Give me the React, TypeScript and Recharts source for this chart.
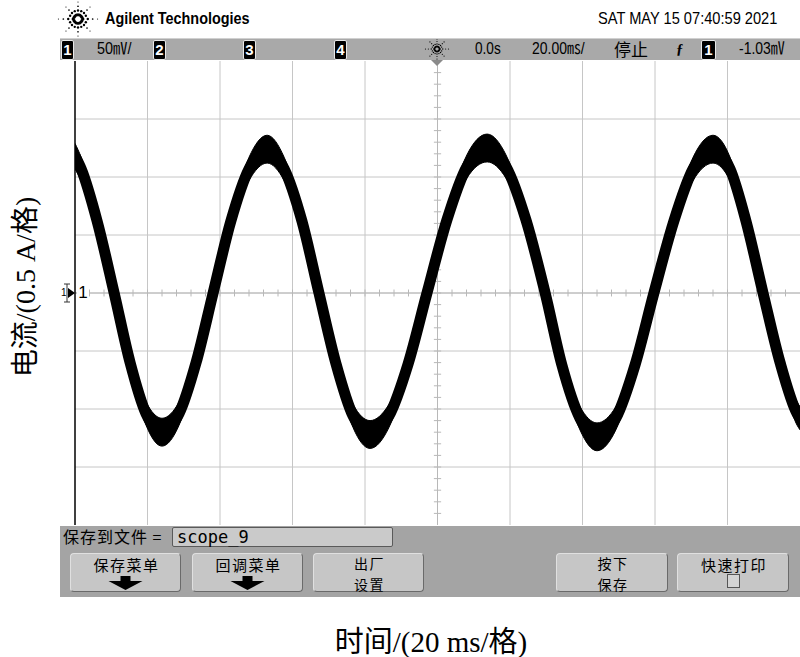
import React from 'react';
import { ComposedChart, Line, Area, XAxis, YAxis, CartesianGrid, ReferenceLine } from 'recharts';

// trace: time in ms (trigger at 0), current in A (0.5 A/div)
const TIME_MS = [
  -100, -98.3, -93.9, -89.2, -84.8, -80.4, -76.0, -71.3, -66.6, -61.9,
  -57.0, -52.0, -47.0, -42.3, -37.4, -32.7, -28.0, -23.3, -18.6, -13.4,
  -8.1, -2.9, 2.6, 8.1, 13.7, 18.9, 24.4, 29.7, 34.3, 39.3,
  44.0, 49.2, 54.5, 59.7, 65.2, 70.5, 76.0, 80.7, 85.1, 89.8,
  94.5, 99.2, 100,
];
const CURRENT_A = [
  1.18, 1.07, 0.62, 0.0, -0.6, -1.04, -1.2, -1.04, -0.6, 0.0,
  0.62, 1.07, 1.24, 1.07, 0.62, 0.0, -0.61, -1.06, -1.22, -1.06,
  -0.61, 0.0, 0.63, 1.09, 1.25, 1.09, 0.63, 0.0, -0.62, -1.08,
  -1.24, -1.08, -0.62, 0.0, 0.62, 1.07, 1.24, 1.07, 0.62, 0.0,
  -0.6, -1.04, -1.08,
];
// half width of the noisy band around the trace (A), widest at the crests
const NOISE_A = [
  0.11, 0.1, 0.05, 0.03, 0.05, 0.1, 0.12, 0.1, 0.05, 0.03,
  0.05, 0.1, 0.12, 0.1, 0.05, 0.03, 0.05, 0.1, 0.12, 0.1,
  0.05, 0.03, 0.05, 0.1, 0.12, 0.1, 0.05, 0.03, 0.05, 0.1,
  0.12, 0.1, 0.05, 0.03, 0.05, 0.1, 0.12, 0.1, 0.05, 0.03,
  0.05, 0.1, 0.1,
];

// screen graticule: 10 x 20 ms, 8 x 0.5 A
const X_GRID = [-80, -60, -40, -20, 0, 20, 40, 60, 80];
const Y_GRID = [-1.5, -1, -0.5, 0, 0.5, 1, 1.5];
const X_MINOR = Array.from({ length: 49 }, (_, k) => -96 + k * 4);
const Y_MINOR = Array.from({ length: 39 }, (_, k) => Math.round((-1.9 + k * 0.1) * 10) / 10);

const data = TIME_MS.map((t, k) => ({
  t,
  i: CURRENT_A[k],
  band: [CURRENT_A[k] - NOISE_A[k], CURRENT_A[k] + NOISE_A[k]],
}));

const SANS = "'Liberation Sans', Arial, 'Noto Sans CJK SC', sans-serif";
const CJK = "'Noto Sans CJK SC', 'Liberation Sans', sans-serif";
const SERIF = "'Liberation Serif', 'Times New Roman', 'Noto Sans CJK SC', serif";

function T({ x, y, size, sx = 1, font = SANS, weight = 400, children, style }: any) {
  return (
    <div
      style={{
        position: 'absolute',
        left: x,
        top: y - size * 0.6,
        fontSize: size,
        lineHeight: `${size * 1.2}px`,
        fontFamily: font,
        fontWeight: weight,
        whiteSpace: 'nowrap',
        transform: `scaleX(${sx})`,
        transformOrigin: 'left center',
        color: '#000',
        ...style,
      }}
    >
      {children}
    </div>
  );
}

function Spark({ cx, cy, r }: { cx: number; cy: number; r: number }) {
  const dots: React.ReactNode[] = [];
  for (let a = 0; a < 16; a++) {
    const ang = (a * Math.PI) / 8;
    const n = a % 2 === 0 ? 4 : 2;
    for (let j = 1; j <= n; j++) {
      const d = (j / 4) * r;
      dots.push(
        <circle
          key={`${a}-${j}`}
          cx={cx + Math.cos(ang) * d * (a % 4 === 0 ? 1.15 : 1)}
          cy={cy + Math.sin(ang) * d}
          r={Math.max(0.6, (1.9 - j * 0.35) * (r / 17))}
          fill="#000"
        />
      );
    }
  }
  return <>{dots}</>;
}

function ChBox({ x, n, w = 11 }: { x: number; n: string; w?: number }) {
  return (
    <div
      style={{
        position: 'absolute',
        left: x,
        top: 1,
        width: w,
        height: 18,
        background: '#000',
        border: '1px solid #e8e8e8',
        borderRadius: 2,
        color: '#fff',
        fontFamily: SANS,
        fontWeight: 700,
        fontSize: 15,
        lineHeight: '18px',
        textAlign: 'center',
      }}
    >
      {n}
    </div>
  );
}

function Button({ x, w, children }: any) {
  return (
    <div
      style={{
        position: 'absolute',
        left: x,
        top: 553,
        width: w,
        height: 39,
        background: '#c6c6c6',
        border: '1px solid #6a6a6a',
        borderTopColor: '#e0e0e0',
        borderLeftColor: '#e0e0e0',
        borderRadius: 4,
        boxSizing: 'border-box',
      }}
    >
      {children}
    </div>
  );
}

function BtnText({ w, top, size = 15, children }: any) {
  return (
    <div
      style={{
        position: 'absolute',
        left: 0,
        top,
        width: w,
        textAlign: 'center',
        fontFamily: CJK,
        fontSize: size,
        lineHeight: '18px',
        letterSpacing: 1.5,
        color: '#000',
      }}
    >
      {children}
    </div>
  );
}

function Arrow({ w }: { w: number }) {
  const c = w / 2 - 1;
  return (
    <svg style={{ position: 'absolute', left: 0, top: 21 }} width={w} height={16}>
      <polygon
        points={`${c - 5},1 ${c + 5},1 ${c + 5},6 ${c + 17},6 ${c},15 ${c - 17},6 ${c - 5},6`}
        fill="#000"
      />
    </svg>
  );
}

export default function App() {
  return (
    <div
      style={{
        position: 'absolute',
        left: 0,
        top: 0,
        width: 800,
        height: 657,
        background: '#fff',
        overflow: 'hidden',
      }}
    >
      <ComposedChart
        width={800}
        height={657}
        data={data}
        margin={{ top: 61, right: 0, bottom: 132, left: 75 }}
        style={{ position: 'absolute', left: 0, top: 0 }}
      >
        <XAxis dataKey="t" type="number" domain={[-100, 100]} ticks={X_GRID} allowDataOverflow hide />
        <YAxis type="number" domain={[-2, 2]} ticks={Y_GRID} allowDataOverflow hide />
        <CartesianGrid
          stroke="#c6c6c6"
          strokeWidth={1}
          verticalValues={X_GRID}
          horizontalValues={Y_GRID}
        />
        <ReferenceLine x={0} stroke="#b8b8b8" />
        <ReferenceLine y={0} stroke="#b8b8b8" />
        {X_MINOR.map((v) => (
          <ReferenceLine
            key={`xm${v}`}
            segment={[{ x: v, y: -0.03 }, { x: v, y: 0.03 }]}
            stroke="#b8b8b8"
          />
        ))}
        {Y_MINOR.map((v) => (
          <ReferenceLine
            key={`ym${v}`}
            segment={[{ x: -1, y: v }, { x: 1, y: v }]}
            stroke="#b8b8b8"
          />
        ))}
        <ReferenceLine x={-100} stroke="#000" strokeWidth={1.5} />
        <Area
          type="monotone"
          dataKey="band"
          stroke="#000"
          strokeWidth={1}
          fill="#000"
          fillOpacity={1}
          dot={false}
          activeDot={false}
          isAnimationActive={false}
        />
        <Line
          type="monotone"
          dataKey="i"
          stroke="#000"
          strokeWidth={11}
          strokeLinejoin="round"
          dot={false}
          activeDot={false}
          isAnimationActive={false}
        />
      </ComposedChart>

      {/* header */}
      <svg style={{ position: 'absolute', left: 0, top: 0 }} width={100} height={38}>
        <Spark cx={78} cy={19} r={17} />
      </svg>
      <T x={105} y={19} size={16} sx={0.9} weight={700}>Agilent Technologies</T>
      <T x={598} y={19} size={17} sx={0.86}>SAT MAY 15 07:40:59 2021</T>

      {/* status bar */}
      <div
        style={{
          position: 'absolute',
          left: 60,
          top: 38,
          width: 740,
          height: 22,
          background: '#a9a9a9',
          borderTop: '1px solid #d0d0d0',
          boxSizing: 'border-box',
        }}
      >
        <ChBox x={1} n="1" />
        <ChBox x={93} n="2" />
        <ChBox x={183} n="3" />
        <ChBox x={274} n="4" />
        <ChBox x={641} n="1" w={13} />
        <svg style={{ position: 'absolute', left: 364, top: 0 }} width={26} height={22}>
          <Spark cx={13} cy={10} r={10} />
        </svg>
      </div>
      <T x={97} y={49} size={16} sx={0.9}>50㎷/</T>
      <T x={475} y={49} size={17} sx={0.8}>0.0s</T>
      <T x={532} y={49} size={17} sx={0.82}>20.00㎳/</T>
      <T x={614} y={49} size={17} font={CJK}>停止</T>
      <T x={676} y={49} size={15} weight={700} font={SERIF}>ƒ</T>
      <T x={739} y={49} size={17} sx={0.82}>-1.03㎷</T>
      <svg style={{ position: 'absolute', left: 431, top: 60 }} width={14} height={8}>
        <polygon points="0,0 12,0 6,6" fill="#8a8a8a" />
      </svg>

      {/* channel 1 ground marker */}
      <T x={61} y={293} size={10}>1</T>
      <svg style={{ position: 'absolute', left: 62, top: 283 }} width={14} height={22}>
        <line x1={5} y1={1} x2={5} y2={19} stroke="#333" strokeWidth={1} />
        <line x1={2} y1={1} x2={8} y2={1} stroke="#333" />
        <line x1={2} y1={19} x2={8} y2={19} stroke="#333" />
        <polygon points="6,5 13,10 6,15" fill="#000" />
      </svg>
      <div
        style={{
          position: 'absolute',
          left: 77,
          top: 284,
          width: 12,
          height: 18,
          background: '#fff',
          fontFamily: SANS,
          fontSize: 17,
          lineHeight: '18px',
          textAlign: 'center',
        }}
      >
        1
      </div>

      {/* bottom soft-key panel */}
      <div
        style={{
          position: 'absolute',
          left: 60,
          top: 526,
          width: 740,
          height: 71,
          background: '#a4a4a4',
        }}
      />
      <T x={63} y={537} size={16} font={CJK} style={{ letterSpacing: 1 }}>保存到文件 =</T>
      <div
        style={{
          position: 'absolute',
          left: 172,
          top: 527,
          width: 221,
          height: 20,
          background: '#cacaca',
          border: '1px solid #5a5a5a',
          borderRadius: 2,
          boxSizing: 'border-box',
        }}
      />
      <T x={177} y={537} size={17} font="'DejaVu Sans Mono', monospace">scope_9</T>

      <Button x={70} w={111}>
        <BtnText w={111} top={2}>保存菜单</BtnText>
        <Arrow w={111} />
      </Button>
      <Button x={192} w={111}>
        <BtnText w={111} top={2}>回调菜单</BtnText>
        <Arrow w={111} />
      </Button>
      <Button x={313} w={111}>
        <BtnText w={111} top={0} size={14}>出厂</BtnText>
        <BtnText w={111} top={20.5} size={14}>设置</BtnText>
      </Button>
      <Button x={556} w={112}>
        <BtnText w={112} top={0} size={14}>按下</BtnText>
        <BtnText w={112} top={20.5} size={14}>保存</BtnText>
      </Button>
      <Button x={677} w={112}>
        <BtnText w={112} top={2}>快速打印</BtnText>
        <div
          style={{
            position: 'absolute',
            left: 49,
            top: 20,
            width: 13,
            height: 14,
            background: '#d4d4d4',
            border: '1px solid #555',
            boxSizing: 'border-box',
          }}
        />
      </Button>

      {/* axis captions */}
      <div
        style={{
          position: 'absolute',
          left: 23,
          top: 287,
          transform: 'translate(-50%, -50%) rotate(-90deg)',
          fontFamily: SERIF,
          fontSize: 28,
          whiteSpace: 'nowrap',
          color: '#000',
        }}
      >
        电流/(0.5 A/格)
      </div>
      <div
        style={{
          position: 'absolute',
          left: 431,
          top: 639,
          transform: 'translate(-50%, -50%)',
          fontFamily: SERIF,
          fontSize: 29,
          whiteSpace: 'nowrap',
          color: '#000',
        }}
      >
        时间/(20 ms/格)
      </div>
    </div>
  );
}
